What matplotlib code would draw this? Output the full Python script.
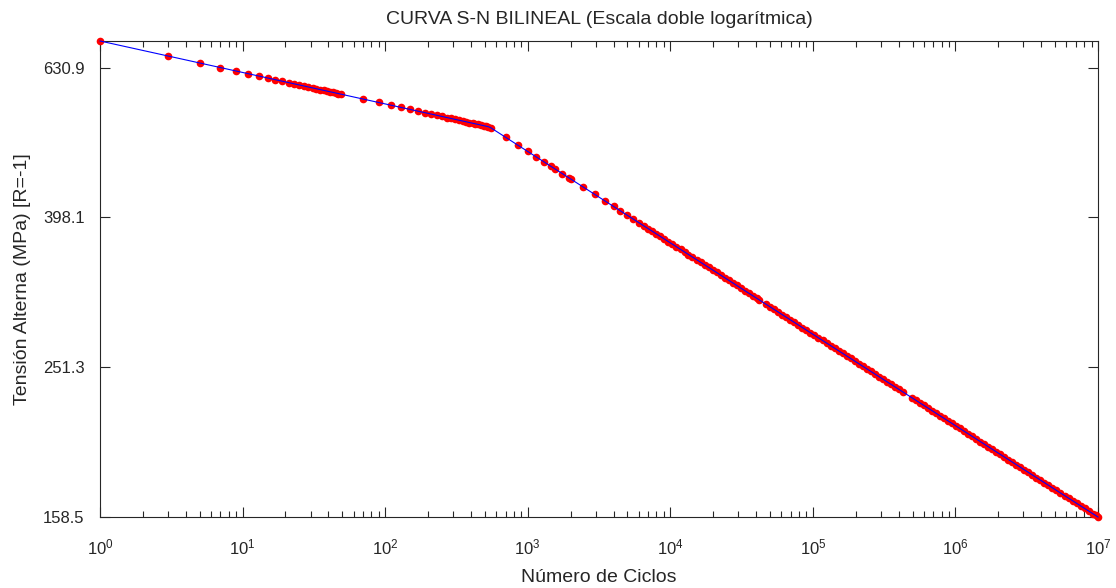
import numpy as np
import matplotlib
matplotlib.use('Agg')
import matplotlib.pyplot as plt
from matplotlib.ticker import NullLocator, LogLocator

plt.rcParams['font.family'] = ['Liberation Sans', 'DejaVu Sans']
plt.rcParams['mathtext.fontset'] = 'custom'
plt.rcParams['mathtext.rm'] = 'Liberation Sans'
plt.rcParams['mathtext.default'] = 'regular'

# tramos de la curva (ciclos, tension alterna en MPa)
ciclos_a = [1, 3, 5, 7, 9, 11, 13, 15, 17, 19, 21, 23, 25, 27, 29, 31, 33, 35, 37, 39, 41, 43, 45, 47, 49]
tension_a = [684.7, 653.8, 639.9, 631.0, 624.3, 619.1, 614.8, 611.1, 607.9, 605.1, 602.5, 600.2, 598.1,
             596.2, 594.4, 592.7, 591.2, 589.7, 588.4, 587.1, 585.8, 584.6, 583.5, 582.5, 581.4]

ciclos_b = [70, 90, 110, 130, 150, 170, 190, 210, 230, 250, 270, 290, 310, 330, 350, 370, 390, 410,
            430, 450, 470, 490, 510, 530, 550]
tension_b = [572.8, 566.8, 562.0, 558.1, 554.8, 551.9, 549.3, 547.0, 544.9, 543.0, 541.2, 539.6, 538.1,
             536.7, 535.4, 534.1, 532.9, 531.8, 530.8, 529.7, 528.8, 527.9, 527.0, 526.1, 524.5]

ciclos_c = [700, 850, 1000, 1150, 1300, 1450, 1550, 1750, 1950, 2000, 2450, 2950, 3500, 4000, 4450,
            4950, 5500, 6000, 6500]
tension_c = [509.2, 497.3, 487.6, 479.3, 472.2, 466.0, 462.2, 455.4, 449.4, 448.0, 437.1, 427.3, 418.5,
             411.7, 406.4, 401.1, 396.0, 391.8, 388.0]

ciclos_d = [7000, 7500, 8000, 8500, 9100, 9700, 10300, 11000, 11800, 12600, 13400, 14300, 15300, 16300,
            17400, 18600, 19800, 21100, 22500, 24000, 25700, 27400, 29200, 31200, 33300, 35500, 37900,
            40400, 42000]
tension_d = [384.5, 381.3, 378.3, 375.5, 372.4, 369.5, 366.8, 363.9, 360.8, 357.9, 355.2, 352.4, 349.5,
             346.9, 344.1, 341.3, 338.7, 336.1, 333.5, 330.9, 328.1, 325.6, 323.0, 320.4, 317.9, 315.4,
             312.9, 310.5, 309.0]

ciclos_e = [47000, 50000, 53500, 57000, 61000, 65000, 69500, 74000, 79000, 84500, 90000, 96000, 102500,
            109500, 117000, 125000, 133000, 142000, 151500, 161500, 172500, 184000, 196500, 209500,
            223500, 238500, 254500, 271500, 290000, 309000, 330000, 352000, 376000, 401000, 427000]
tension_e = [304.8, 302.5, 300.0, 297.7, 295.3, 293.0, 290.6, 288.4, 286.1, 283.8, 281.6, 279.4, 277.2,
             274.9, 272.7, 270.5, 268.5, 266.3, 264.3, 262.2, 260.1, 258.1, 256.0, 254.0, 252.0, 250.0,
             248.0, 246.1, 244.1, 242.2, 240.3, 238.4, 236.5, 234.7, 232.9]

ciclos_f = [494000, 527000, 562000, 600000, 640000, 683000, 729000, 778000, 830000, 886000, 945000,
            1010000, 1075000, 1150000, 1225000, 1310000, 1395000, 1490000, 1590000, 1700000, 1810000,
            1930000, 2060000, 2200000, 2350000, 2500000, 2670000, 2850000, 3040000, 3250000, 3460000,
            3700000, 3940000, 4210000, 4490000, 4790000, 5110000, 5450000, 5820000, 6210000, 6630000,
            7070000, 7550000, 8050000, 8590000, 9170000, 9600000, 10000000]
tension_f = [228.8, 227.0, 225.2, 223.4, 221.7, 219.9, 218.2, 216.4, 214.7, 213.0, 211.4, 209.7, 208.1,
             206.4, 204.8, 203.1, 201.6, 199.9, 198.4, 196.7, 195.3, 193.7, 192.2, 190.7, 189.1, 187.7,
             186.2, 184.7, 183.3, 181.8, 180.4, 178.9, 177.6, 176.1, 174.8, 173.4, 172.0, 170.7, 169.3,
             168.0, 166.6, 165.3, 164.0, 162.8, 161.5, 160.2, 159.3, 158.5]

x_ticks = [1, 10, 100, 1000, 10000, 100000, 1000000, 10000000]
x_labels = ['$10^{%d}$' % k for k in range(8)]
y_ticks = [158.5, 251.3, 398.1, 630.9]
y_labels = ['158.5', '251.3', '398.1', '630.9']

N = np.array(ciclos_a + ciclos_b + ciclos_c + ciclos_d + ciclos_e + ciclos_f, dtype=float)
S = np.array(tension_a + tension_b + tension_c + tension_d + tension_e + tension_f)

fig = plt.figure(figsize=(11.16, 5.88), dpi=100)
ax = fig.add_axes([0.0896, 0.1207, 0.8943, 0.8096])

ax.loglog(N, S, 'o', color='red', ms=5.5, mec='none', zorder=4, clip_on=False)
ax.loglog(N, S, '-', color='blue', lw=0.8, zorder=5, clip_on=False)

ax.set_xlim(1, 1e7)
ax.set_ylim(min(S), max(S))

ax.set_xticks(x_ticks)
ax.set_xticklabels(x_labels)
ax.xaxis.set_minor_locator(LogLocator(base=10, subs=np.arange(2, 10), numticks=20))
ax.set_yticks(y_ticks)
ax.set_yticklabels(y_labels)
ax.yaxis.set_minor_locator(NullLocator())

ax.tick_params(which='both', direction='in', top=True, right=True, colors='#262626',
               labelsize=12, width=0.8)
ax.tick_params(which='major', length=7)
ax.tick_params(which='minor', length=4)
ax.tick_params(axis='x', which='major', pad=15)
ax.tick_params(axis='y', which='major', pad=11)
for sp in ax.spines.values():
    sp.set_linewidth(0.8)
    sp.set_color('#262626')

ax.set_title('CURVA S-N BILINEAL (Escala doble logarítmica)', fontsize=14, color='#262626', pad=12)
ax.set_xlabel('Número de Ciclos', fontsize=14, color='#262626', labelpad=8)
ax.set_ylabel('Tensión Alterna (MPa) [R=-1]', fontsize=14, color='#262626', labelpad=9)

fig.savefig('out.png')
